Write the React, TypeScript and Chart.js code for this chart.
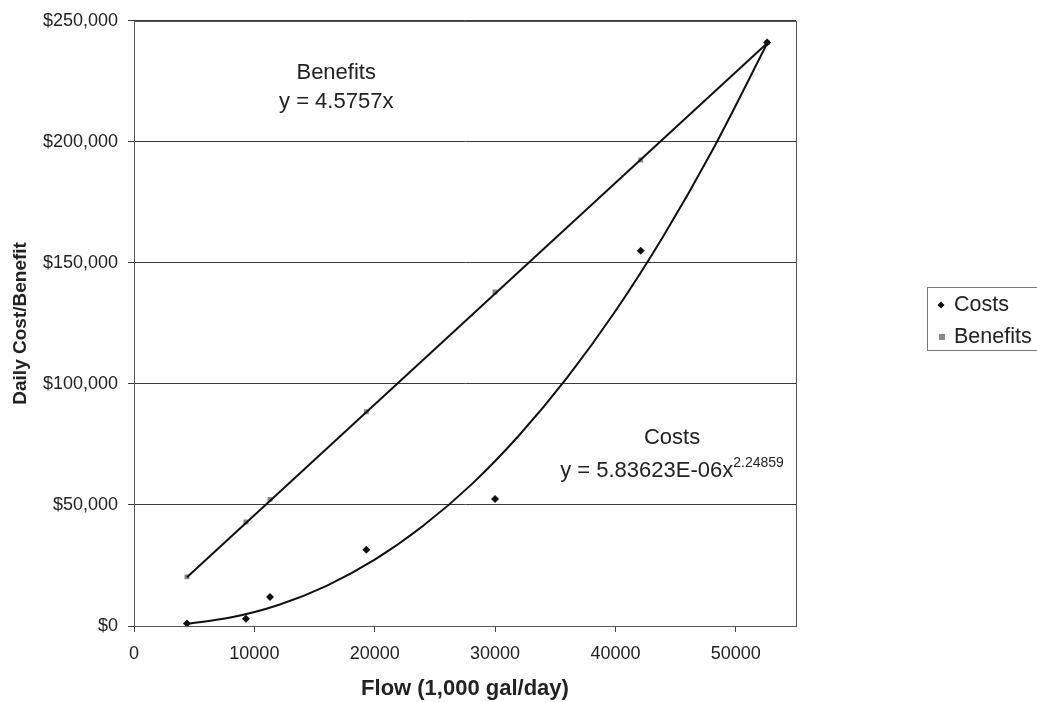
import React, { useEffect, useRef } from "react";
import { Chart, registerables } from "chart.js";

Chart.register(...registerables);

// Observed data points (flow in 1,000 gal/day, daily $)
const flowPoints = [4400, 9300, 11300, 19300, 30000, 42100, 52600];
const costValues = [1000, 3000, 12000, 31500, 52500, 155000, 241000];
const benefitValues = [20300, 43000, 52300, 88500, 138000, 192500, 241000];

// Trendlines
const costTrendFlow = [4400, 8000, 12000, 16000, 20000, 24000, 28000, 32000, 36000, 40000, 44000, 48000, 52600];
const costTrendValues = [900, 3500, 8700, 16600, 27400, 41300, 58300, 78800, 102700, 130100, 161200, 196000, 240600];
const benefitTrendFlow = [4400, 52600];
const benefitTrendValues = [20100, 240700];

// Axis ticks
const xTickValues = [0, 10000, 20000, 30000, 40000, 50000];
const yTickValues = [0, 50000, 100000, 150000, 200000, 250000];

// Texts
const seriesNames = ["Costs", "Benefits"];
const benefitsEquation = "y = 4.5757x";
const costsEquationBase = "y = 5.83623E-06x";
const costsEquationExp = "2.24859";
const xTitle = "Flow (1,000 gal/day)";
const yTitle = "Daily Cost/Benefit";

const FONT = "'Liberation Sans', Arial, Helvetica, sans-serif";

const toXY = (xs: number[], ys: number[]) => xs.map((x, i) => ({ x, y: ys[i] }));

const framePlugin = {
  id: "frame",
  afterDatasetsDraw(chart: any) {
    const { ctx, chartArea } = chart;
    ctx.save();
    ctx.strokeStyle = "#555";
    ctx.lineWidth = 1;
    ctx.strokeRect(
      Math.round(chartArea.left) + 0.5,
      Math.round(chartArea.top) + 0.5,
      Math.round(chartArea.right - chartArea.left),
      Math.round(chartArea.bottom - chartArea.top)
    );
    ctx.restore();
  },
};

const annotationPlugin = {
  id: "annotations",
  afterDraw(chart: any) {
    const { ctx } = chart;
    const xs = chart.scales.x;
    const ys = chart.scales.y;
    ctx.save();
    ctx.fillStyle = "#222";
    ctx.textBaseline = "middle";
    ctx.textAlign = "center";
    ctx.font = `22px ${FONT}`;
    // Benefits label
    const bx = xs.getPixelForValue(16800);
    ctx.fillText(seriesNames[1], bx, ys.getPixelForValue(228500));
    ctx.fillText(benefitsEquation, bx, ys.getPixelForValue(216500));
    // Costs label
    const cx = xs.getPixelForValue(44700);
    ctx.fillText(seriesNames[0], cx, ys.getPixelForValue(77500));
    ctx.textAlign = "left";
    const w1 = ctx.measureText(costsEquationBase).width;
    ctx.font = `14px ${FONT}`;
    const w2 = ctx.measureText(costsEquationExp).width;
    const start = cx - (w1 + w2) / 2;
    const ey = ys.getPixelForValue(64000);
    ctx.font = `22px ${FONT}`;
    ctx.fillText(costsEquationBase, start, ey);
    ctx.font = `14px ${FONT}`;
    ctx.fillText(costsEquationExp, start + w1, ey - 8);

    // Legend
    const lx = 927.5;
    const ly = 287.5;
    ctx.strokeStyle = "#777";
    ctx.lineWidth = 1;
    ctx.strokeRect(lx, ly, 125, 63);
    ctx.fillStyle = "#111";
    ctx.beginPath();
    ctx.moveTo(941, 301.5);
    ctx.lineTo(944.5, 305);
    ctx.lineTo(941, 308.5);
    ctx.lineTo(937.5, 305);
    ctx.closePath();
    ctx.fill();
    ctx.fillStyle = "#888";
    ctx.fillRect(939, 334, 6, 6);
    ctx.fillStyle = "#222";
    ctx.font = `21.5px ${FONT}`;
    ctx.textAlign = "left";
    ctx.fillText(seriesNames[0], 954, 305);
    ctx.fillText(seriesNames[1], 954, 337);
    ctx.restore();
  },
};

export default function App() {
  const canvasRef = useRef<HTMLCanvasElement | null>(null);

  useEffect(() => {
    if (!canvasRef.current) return;
    const chart = new Chart(canvasRef.current, {
      type: "scatter",
      data: {
        datasets: [
          {
            label: seriesNames[0] + " trend",
            data: toXY(costTrendFlow, costTrendValues),
            showLine: true,
            borderColor: "#111",
            borderWidth: 2,
            pointRadius: 0,
            cubicInterpolationMode: "monotone",
          },
          {
            label: seriesNames[1] + " trend",
            data: toXY(benefitTrendFlow, benefitTrendValues),
            showLine: true,
            borderColor: "#111",
            borderWidth: 2,
            pointRadius: 0,
          },
          {
            label: seriesNames[0],
            data: toXY(flowPoints, costValues),
            pointStyle: "rectRot",
            pointRadius: 4,
            backgroundColor: "#111",
            borderColor: "#111",
            borderWidth: 0,
          },
          {
            label: seriesNames[1],
            data: toXY(flowPoints, benefitValues),
            pointStyle: "rect",
            pointRadius: 3.5,
            backgroundColor: "#8a8a8a",
            borderColor: "#8a8a8a",
            borderWidth: 0,
          },
        ],
      },
      options: {
        responsive: true,
        maintainAspectRatio: false,
        animation: false,
        layout: { padding: { top: 19, right: 241, left: 0, bottom: 0 } },
        plugins: {
          legend: { display: false },
          tooltip: { enabled: false },
        },
        scales: {
          x: {
            type: "linear",
            min: 0,
            max: 55000,
            afterBuildTicks: (scale: any) => {
              scale.ticks = xTickValues.map((v) => ({ value: v }));
            },
            afterFit: (scale: any) => {
              scale.height = 76;
            },
            ticks: {
              color: "#222",
              font: { family: FONT, size: 18 },
              padding: 11,
              maxRotation: 0,
              callback: (v: any) => String(v),
            },
            grid: {
              drawOnChartArea: false,
              drawTicks: true,
              tickLength: 6,
              color: "#444",
            },
            border: { display: true, color: "#444" },
            title: {
              display: true,
              text: xTitle,
              color: "#222",
              font: { family: FONT, size: 22, weight: "bold", lineHeight: 1.2 },
              padding: { top: 0, bottom: 0 },
            },
          },
          y: {
            type: "linear",
            min: 0,
            max: 250000,
            afterBuildTicks: (scale: any) => {
              scale.ticks = yTickValues.map((v) => ({ value: v }));
            },
            afterFit: (scale: any) => {
              scale.width = 134;
            },
            ticks: {
              color: "#222",
              font: { family: FONT, size: 18 },
              padding: 10,
              callback: (v: any) => "$" + Number(v).toLocaleString("en-US"),
            },
            grid: {
              drawTicks: true,
              tickLength: 6,
              color: "#3a3a3a",
              lineWidth: 1,
            },
            border: { display: true, color: "#444" },
            title: {
              display: true,
              text: yTitle,
              color: "#222",
              font: { family: FONT, size: 19, weight: "bold", lineHeight: 1.2 },
              padding: { top: 9, bottom: 0 },
            },
          },
        },
      },
      plugins: [framePlugin, annotationPlugin],
    });
    return () => chart.destroy();
  }, []);

  return (
    <div style={{ position: "absolute", left: 0, top: 0, width: 1037, height: 702, background: "#fff" }}>
      <canvas ref={canvasRef} />
    </div>
  );
}
